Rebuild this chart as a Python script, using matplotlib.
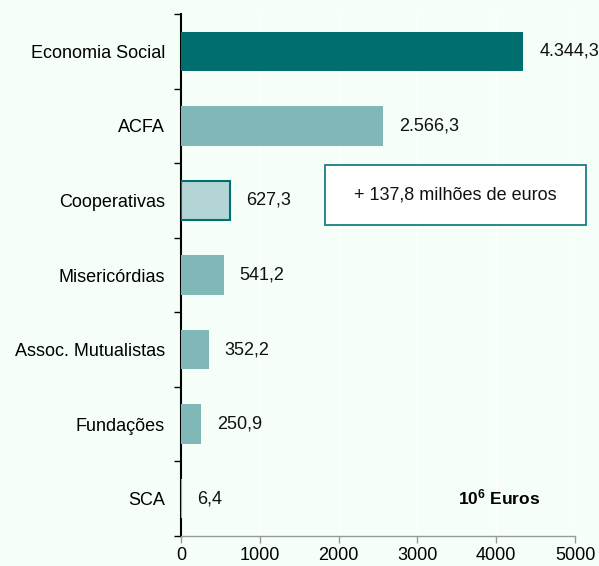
import matplotlib
matplotlib.use("Agg")
import matplotlib.pyplot as plt
from matplotlib.patches import Rectangle
import numpy as np

categories = ["Economia Social", "ACFA", "Cooperativas", "Misericórdias",
              "Assoc. Mutualistas", "Fundações", "SCA"]
values = [4344.3, 2566.3, 627.3, 541.2, 352.2, 250.9, 6.4]
labels = ["4.344,3", "2.566,3", "627,3", "541,2", "352,2", "250,9", "6,4"]
xticks = [0, 1000, 2000, 3000, 4000, 5000]

plt.rcParams['font.family'] = ['Liberation Sans', 'DejaVu Sans']
plt.rcParams['mathtext.fontset'] = 'custom'
plt.rcParams['mathtext.rm'] = 'Liberation Sans'
plt.rcParams['mathtext.bf'] = 'Liberation Sans:bold'

FS = 13
bg = '#F5FFF8'
fig = plt.figure(figsize=(5.99, 5.66), dpi=100, facecolor=bg)
ax = fig.add_axes([181/599, 30/566, 394/599, 522/566], facecolor=bg)

n = len(categories)
ypos = np.arange(n)
facecolors = ['#006E6E', '#80B8B8', '#B3D5D5', '#80B8B8', '#80B8B8', '#80B8B8', '#80B8B8']
edgecolors = ['#006E6E', '#80B8B8', '#007070', '#80B8B8', '#80B8B8', '#80B8B8', '#80B8B8']
lws = [0, 0, 1.5, 0, 0, 0, 0]
for i in range(n):
    ax.barh(ypos[i], values[i], height=0.53, color=facecolors[i],
            edgecolor=edgecolors[i], linewidth=lws[i], zorder=3)
    ax.annotate(labels[i], xy=(values[i], ypos[i]), xytext=(11.5, 0),
                textcoords='offset points', va='center', ha='left', fontsize=FS,
                color='#111111')

ax.set_ylim(n - 0.5, -0.5)
ax.set_xlim(0, 5000)
ax.set_xticks(xticks)
ax.set_xticklabels([str(t) for t in xticks], fontsize=FS)
ax.set_yticks(ypos)
ax.set_yticklabels(categories, fontsize=FS)
ax.tick_params(axis='y', which='major', length=0, pad=11.5)
ax.set_yticks(np.arange(-0.5, n, 1), minor=True)
ax.tick_params(axis='y', which='minor', length=5, width=1, color='black', direction='out')
ax.tick_params(axis='x', length=5, width=1, color='#999999', direction='out', pad=3)

ax.grid(axis='x', color='white', linewidth=1, zorder=0)
ax.set_axisbelow(True)
for s in ['top', 'right']:
    ax.spines[s].set_visible(False)
ax.spines['left'].set_color('black')
ax.spines['left'].set_linewidth(1.5)
ax.spines['bottom'].set_color('#999999')
ax.spines['bottom'].set_linewidth(1)

# annotation box
box = Rectangle((325/599, 1 - 225/566), 261/599, 60/566, transform=fig.transFigure,
                facecolor='white', edgecolor='#1A7F7F', linewidth=1.3, zorder=5)
fig.patches.append(box)
fig.text(455/599, 1 - 195/566, "+ 137,8 milhões de euros", ha='center', va='center',
         fontsize=FS, color='#111111', zorder=6)

fig.text(499/599, 1 - 497/566, r'$\mathbf{10^6}$ Euros', ha='center', va='center',
         fontsize=12.5, fontweight='bold', color='black')

fig.savefig("out.png", dpi=100, facecolor=bg)
